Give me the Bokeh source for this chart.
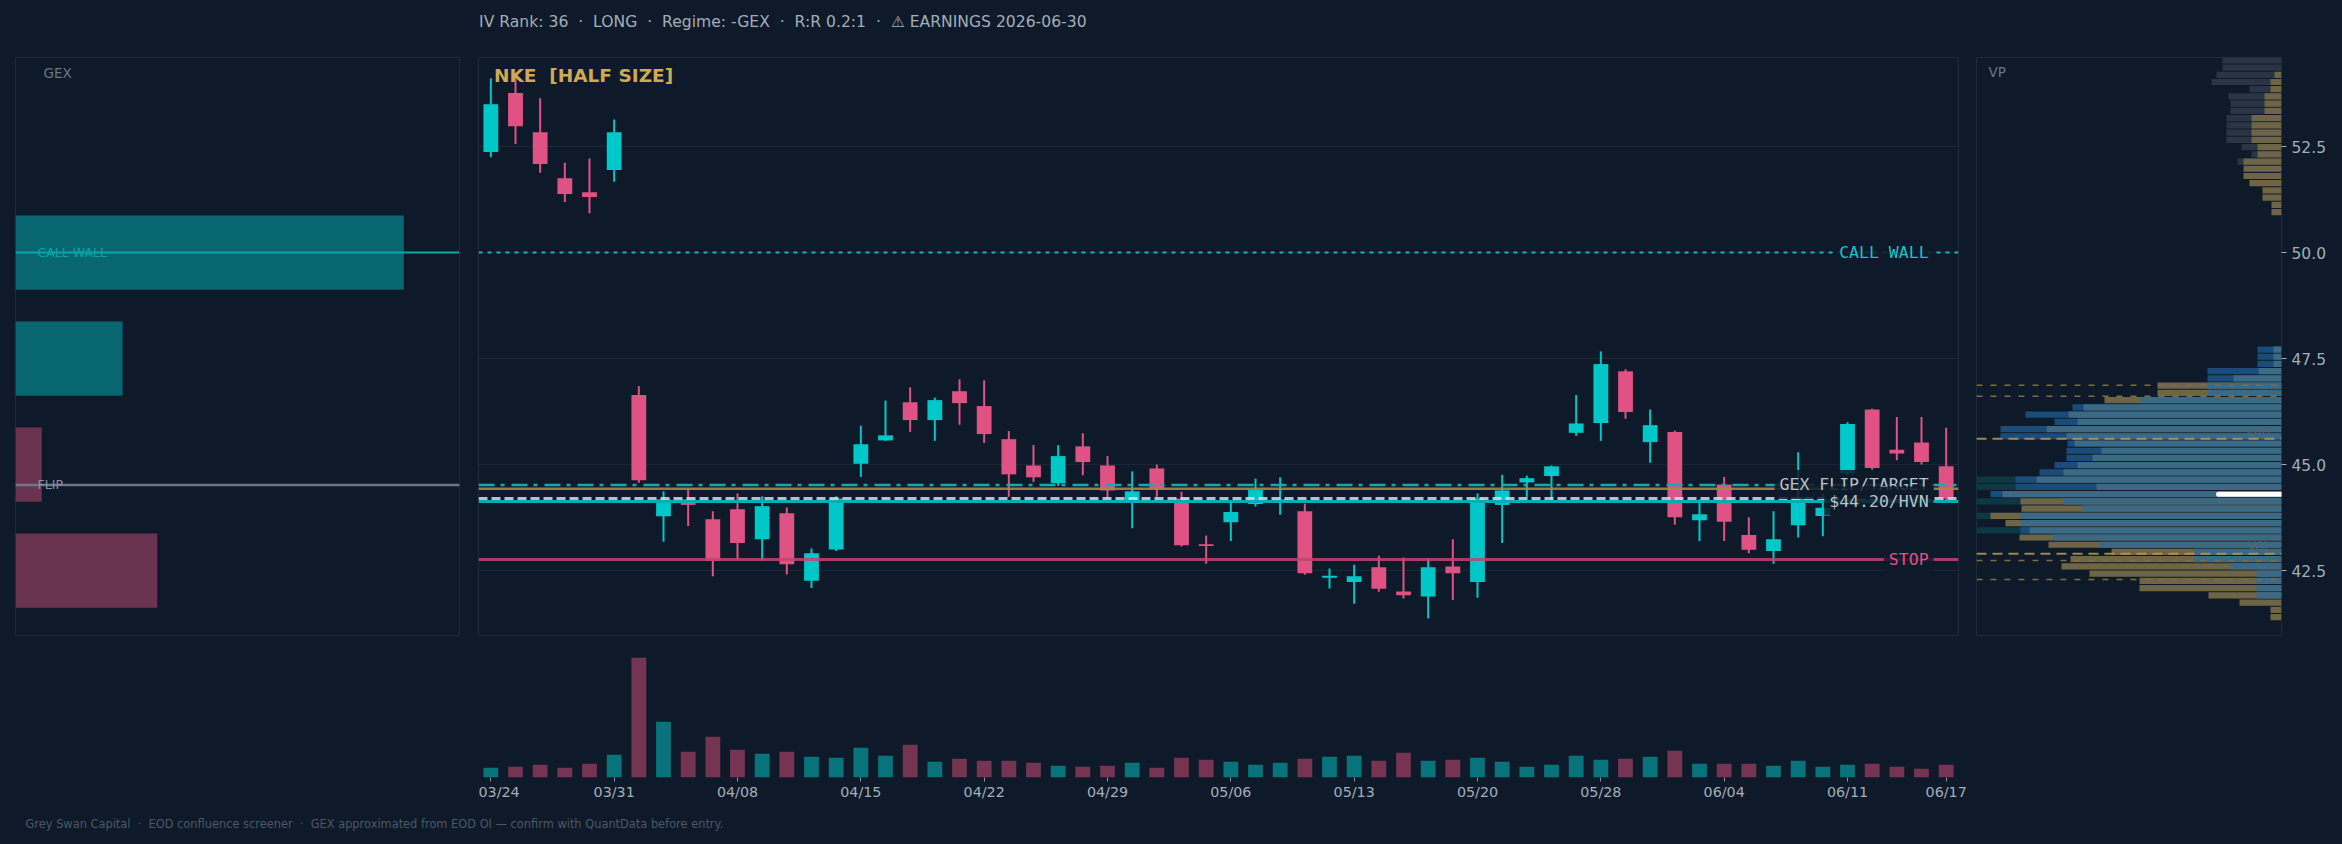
from bokeh.plotting import figure
from bokeh.models import (Range1d, Label, Span, FixedTicker, ColumnDataSource, Arrow,
                          Grid, NumeralTickFormatter)
from bokeh.layouts import row, column
from bokeh.embed import file_html
from bokeh.resources import INLINE

# ---------------- data ----------------
dates = ["03/24", "03/25", "03/26", "03/27", "03/30", "03/31", "04/01", "04/02", "04/06", "04/07",
         "04/08", "04/09", "04/10", "04/13", "04/14", "04/15", "04/16", "04/17", "04/20", "04/21",
         "04/22", "04/23", "04/24", "04/27", "04/28", "04/29", "04/30", "05/01", "05/04", "05/05",
         "05/06", "05/07", "05/08", "05/11", "05/12", "05/13", "05/14", "05/15", "05/18", "05/19",
         "05/20", "05/21", "05/22", "05/26", "05/27", "05/28", "05/29", "06/01", "06/02", "06/03",
         "06/04", "06/05", "06/08", "06/09", "06/10", "06/11", "06/12", "06/15", "06/16", "06/17"]
opens = [52.37, 53.76, 52.84, 51.75, 51.42, 51.95, 46.64, 43.78, 44.18, 43.71,
         43.95, 43.24, 43.85, 42.26, 43.00, 45.02, 45.57, 46.47, 46.05, 46.73,
         46.38, 45.60, 44.98, 44.56, 45.43, 44.98, 44.10, 44.91, 44.20, 43.12,
         43.64, 44.07, 44.10, 43.90, 42.33, 42.23, 42.58, 42.01, 41.89, 42.60,
         42.23, 44.05, 44.58, 44.73, 45.75, 45.98, 47.20, 45.53, 45.77, 43.69,
         44.53, 43.34, 42.96, 43.57, 43.79, 44.79, 46.30, 45.35, 45.52, 44.96]
highs = [54.11, 54.16, 53.64, 52.12, 52.22, 53.14, 46.85, 44.37, 44.41, 43.90,
         44.32, 44.25, 43.99, 43.02, 44.25, 45.92, 46.51, 46.82, 46.58, 47.01,
         46.99, 45.79, 45.46, 45.46, 45.74, 45.20, 44.84, 45.00, 44.36, 43.33,
         44.12, 44.67, 44.70, 44.08, 42.55, 42.64, 42.85, 42.81, 42.78, 43.24,
         44.32, 44.76, 44.74, 44.98, 46.64, 47.67, 47.25, 46.30, 45.80, 44.18,
         44.71, 43.76, 43.90, 45.29, 44.32, 46.00, 46.32, 46.12, 46.12, 45.87]
lows = [52.25, 52.56, 51.88, 51.19, 50.93, 51.67, 44.57, 43.18, 43.55, 42.37,
        42.76, 42.74, 42.41, 42.09, 42.96, 44.71, 45.56, 45.77, 45.56, 45.94,
        45.51, 44.24, 44.59, 44.50, 44.75, 44.20, 43.50, 44.24, 43.07, 42.66,
        43.20, 44.01, 43.82, 42.40, 42.08, 41.72, 42.00, 41.84, 41.37, 41.81,
        41.86, 43.15, 44.24, 44.12, 45.68, 45.56, 46.08, 45.04, 43.58, 43.20,
        43.20, 42.91, 42.66, 43.28, 43.31, 44.75, 44.88, 45.10, 45.00, 44.16]
closes = [53.50, 52.98, 52.09, 51.38, 51.31, 52.84, 44.63, 44.18, 44.05, 42.73,
          43.15, 44.02, 42.65, 42.91, 44.20, 45.48, 45.69, 46.05, 46.52, 46.45,
          45.72, 44.77, 44.70, 45.20, 45.06, 44.39, 44.37, 44.43, 43.10, 43.08,
          43.88, 44.40, 44.18, 42.44, 42.38, 42.37, 42.07, 41.92, 42.58, 42.44,
          44.20, 44.39, 44.68, 44.96, 45.97, 47.37, 46.24, 45.93, 43.76, 43.83,
          43.65, 42.99, 43.24, 44.23, 43.98, 45.96, 44.92, 45.26, 45.06, 44.20]
volumes_m = [7.8, 8.6, 10.2, 7.8, 11.0, 18.2, 95.8, 44.6, 20.6, 32.6,
             22.2, 19.0, 20.6, 16.6, 15.8, 23.8, 17.4, 26.2, 12.6, 15.0,
             13.4, 13.4, 11.8, 9.4, 8.6, 9.4, 11.8, 7.8, 15.8, 14.2,
             12.6, 10.2, 11.8, 15.0, 16.6, 17.4, 13.4, 19.8, 13.4, 14.2,
             15.8, 12.6, 8.6, 10.2, 17.4, 14.2, 15.0, 16.6, 21.4, 11.0,
             11.0, 11.0, 9.4, 13.4, 8.6, 10.2, 11.0, 8.6, 7.0, 10.2]
tick_idx = [0, 5, 10, 15, 20, 25, 30, 35, 40, 45, 50, 55, 59]

# key levels
call_wall = 50.0
gex_flip = 44.52
entry_level = 44.43
target = 44.20
hvn = 44.13
stop = 42.76
price_grid = [42.5, 45.0, 47.5, 50.0, 52.5]

# GEX by strike ($M)
gex_strikes = [50.0, 47.5, 45.0, 42.5]
gex_values = [3.70, 1.02, -0.25, -1.35]

# volume profile (78 bins from 41.32, width 0.1705), layered widths
vp_lo = 41.32
vp_bin = 0.1705
vp_teal = [0]*12 + [330, 0, 330, 0, 330, 0, 330, 330] + [0]*58
vp_gray = [0]*63 + [44, 30, 40, 55, 55, 55, 55, 51, 51, 53, 32, 70, 65, 59, 59]
vp_dark = ([0]*12 + [261, 0, 0, 0, 0, 291, 266, 266, 242, 227, 215, 215, 214, 281, 281, 227, 256, 209,
            0, 0, 0, 74, 74, 24, 24, 24] + [0]*40)
vp_gold = ([11, 11, 42, 73, 142, 142, 192, 220, 211, 170, 233, 262, 0, 276, 291, 260, 261,
            0, 0, 0, 0, 0, 0, 0, 0, 0, 0, 0, 0, 0, 177, 124, 124] + [0]*23 +
           [10, 10, 19, 19, 32, 38, 38, 38, 24, 24, 30, 30, 30, 30, 17, 17, 17, 11, 11, 7, 0, 0])
vp_light = ([0, 0, 0, 25, 25, 25, 25, 51, 87, 87, 182, 229, 252, 261, 261, 199, 218, 279, 185, 245,
             218, 204, 189, 180, 207, 215, 235, 204, 213, 198, 141, 74, 74, 48, 23, 8, 8, 8] + [0]*40)
vah = 45.61
val = 42.90
vp_guides = [46.87, 46.61, 42.74, 42.29]
poc = 44.30

# ---------------- style ----------------
BG = "#0e1a29"
BORDER = "#1f2b3b"
GRID = "#1b2737"
UP = "#00c8c8"
DOWN = "#e05283"
VOL_UP = "#08737a"
VOL_DOWN = "#743452"
AXIS_TXT = "#a3adb8"
NB = "\u00a0"

common = dict(toolbar_location=None, output_backend="svg", background_fill_color=BG,
              border_fill_color=BG, styles={"background-color": BG})

yr = Range1d(40.97, 54.60)
xr = Range1d(-0.5, 59.5)

# ---------------- GEX panel ----------------
gex = figure(width=478, height=807, x_range=Range1d(0, 4.23), y_range=yr,
             x_axis_location=None, y_axis_location=None,
             min_border_left=15, min_border_right=19, min_border_top=57, min_border_bottom=172,
             **common)
gex.outline_line_color = BORDER
gex.grid.visible = False
gex_len = [abs(v) for v in gex_values]
gex_col = ["#07666f" if v > 0 else "#6a3450" for v in gex_values]
gex.hbar(y=gex_strikes, height=1.75, left=0, right=gex_len, fill_color=gex_col, line_color=None)
gex.add_layout(Span(location=call_wall, dimension="width", line_color="#0aa5a8", line_width=2))
gex.add_layout(Span(location=gex_flip, dimension="width", line_color="#6c7686", line_width=2.5))
gex.add_layout(Label(x=0.21, y=call_wall, text="CALL WALL", text_color="#0aa3a6",
                     text_font="DejaVu Sans", text_font_size="12.5px", text_baseline="middle"))
gex.add_layout(Label(x=0.21, y=gex_flip, text="FLIP", text_color="#8a94a2",
                     text_font="DejaVu Sans", text_font_size="12.5px", text_baseline="middle"))
gex.add_layout(Label(x=0.267, y=54.23, text="GEX", text_color="#6b7685",
                     text_font="DejaVu Sans", text_font_size="13.5px", text_baseline="middle"))

# ---------------- header strip (title) ----------------
title_txt = ("IV Rank: 36 " + NB + "\u00b7" + NB + " LONG " + NB + "\u00b7" + NB + " Regime: -GEX "
             + NB + "\u00b7" + NB + " R:R 0.2:1 " + NB + "\u00b7" + NB + " \u26a0 EARNINGS 2026-06-30")
head = figure(width=1498, height=57, x_range=Range1d(0, 1498), y_range=Range1d(0, 57),
              x_axis_location=None, y_axis_location=None, min_border=0, **common)
head.outline_line_color = None
head.grid.visible = False
head.add_layout(Label(x=0.6, y=35.3, text=title_txt, text_color=AXIS_TXT,
                      text_font="DejaVu Sans", text_font_size="15.6px", text_baseline="middle"))

# ---------------- main price panel ----------------
main = figure(width=1498, height=580, x_range=xr, y_range=yr,
              x_axis_location=None, y_axis_location=None,
              min_border_left=0, min_border_right=18, min_border_top=0, min_border_bottom=2,
              **common)
main.outline_line_color = BORDER
main.grid.visible = False
main.add_layout(Grid(dimension=1, ticker=FixedTicker(ticks=price_grid),
                     grid_line_color=GRID, grid_line_width=1))

xs = list(range(len(dates)))
up = [c >= o for o, c in zip(opens, closes)]
src = ColumnDataSource(dict(
    x=xs, h=highs, l=lows,
    top=[max(o, c) for o, c in zip(opens, closes)],
    bottom=[min(o, c) for o, c in zip(opens, closes)],
    color=[UP if u else DOWN for u in up],
    vcolor=[VOL_UP if u else VOL_DOWN for u in up],
    vol=volumes_m))
main.segment(x0="x", y0="h", x1="x", y1="l", line_color="color", line_width=2, source=src)
main.vbar(x="x", width=0.6, top="top", bottom="bottom", fill_color="color", line_color=None, source=src)

main.add_layout(Span(location=call_wall, dimension="width", line_color="#13b5b8",
                     line_width=2, line_dash="4 5"))
main.add_layout(Span(location=gex_flip, dimension="width", line_color="#12aab0",
                     line_width=2.5, line_dash="16 6 4 7"))
main.add_layout(Span(location=entry_level, dimension="width", line_color="#a48a45",
                     line_width=2.5, line_alpha=0.9))
main.add_layout(Span(location=target, dimension="width", line_color="#d8dde2",
                     line_width=3, line_dash="9 4", line_alpha=0.85))
main.add_layout(Span(location=hvn, dimension="width", line_color="#00aeb3", line_width=3))
main.add_layout(Span(location=stop, dimension="width", line_color="#c0456f",
                     line_width=3, line_alpha=0.85))

lab = dict(text_font="DejaVu Sans Mono", text_font_size="16.5px", text_align="right",
           text_baseline="middle", background_fill_color=BG, background_fill_alpha=0.85,
           padding=5)
lx = 58.49
main.add_layout(Label(x=lx, y=call_wall, text="CALL WALL", text_color="#19c3c6", **lab))
main.add_layout(Label(x=lx, y=44.53, text="GEX FLIP/TARGET", text_color="#b8c1ca", **lab))
main.add_layout(Label(x=lx, y=44.14, text="$44.20/HVN", text_color="#b8c1ca", **lab))
main.add_layout(Label(x=lx, y=stop, text="STOP", text_color=DOWN, **lab))
main.add_layout(Label(x=0.128, y=54.18, text="NKE " + NB + "[HALF SIZE]", text_color="#d0aa50",
                      text_font="DejaVu Sans", text_font_size="18.5px", text_font_style="bold",
                      text_baseline="middle"))

# ---------------- volume panel ----------------
vol = figure(width=1498, height=170, x_range=xr, y_range=Range1d(0, 108.8),
             x_axis_location="below", y_axis_location=None,
             min_border_left=0, min_border_right=18, min_border_top=4, min_border_bottom=30,
             **common)
vol.outline_line_color = None
vol.grid.visible = False
vol.vbar(x="x", width=0.6, top="vol", bottom=0, fill_color="vcolor", line_color=None, source=src)
vol.xaxis.ticker = FixedTicker(ticks=tick_idx)
vol.xaxis.major_label_overrides = {i: dates[i] for i in tick_idx}
vol.xaxis.axis_line_color = None
vol.xaxis.major_tick_line_color = "#8a94a0"
vol.xaxis.major_tick_out = 4
vol.xaxis.major_tick_in = 0
vol.xaxis.minor_tick_line_color = None
vol.xaxis.major_label_text_color = AXIS_TXT
vol.xaxis.major_label_text_font = "DejaVu Sans"
vol.xaxis.major_label_text_font_size = "14.3px"
vol.xaxis.major_label_standoff = 2

# ---------------- volume profile panel ----------------
vp = figure(width=366, height=807, x_range=Range1d(305, 0), y_range=yr,
            x_axis_location=None, y_axis_location="right",
            min_border_left=0, min_border_right=61, min_border_top=57, min_border_bottom=172,
            **common)
vp.outline_line_color = BORDER
vp.grid.visible = False
centers = [vp_lo + (k + 0.5) * vp_bin for k in range(len(vp_light))]
for widths, colr in [(vp_teal, "#0c3844"), (vp_gray, "#2a3444"), (vp_dark, "#1b4b78"),
                     (vp_gold, "#6e6446"), (vp_light, "#3c6984")]:
    vp.hbar(y=centers, height=vp_bin * 0.86, left=0, right=widths, fill_color=colr, line_color=None)
for g in vp_guides:
    vp.add_layout(Span(location=g, dimension="width", line_color="#7d6d45", line_width=1.5,
                       line_dash="6 8"))
vp.add_layout(Span(location=vah, dimension="width", line_color="#b8994e", line_width=2,
                   line_dash="10 6", line_alpha=0.85))
vp.add_layout(Span(location=val, dimension="width", line_color="#b8994e", line_width=2,
                   line_dash="10 6", line_alpha=0.85))
vp.add_layout(Label(x=11, y=45.78, text="VAH", text_color="#4d6673", text_font="DejaVu Sans",
                    text_font_size="12px", text_align="right", text_baseline="middle"))
vp.add_layout(Label(x=11, y=43.08, text="VAL", text_color="#4d6673", text_font="DejaVu Sans",
                    text_font_size="12px", text_align="right", text_baseline="middle"))
vp.add_layout(Label(x=293, y=54.26, text="VP", text_color="#6b7685", text_font="DejaVu Sans",
                    text_font_size="13.5px", text_baseline="middle"))
vp.add_layout(Arrow(end=None, x_start=63, y_start=poc, x_end=-20, y_end=poc,
                    line_color="white", line_width=5, line_cap="round"))
vp.yaxis.ticker = FixedTicker(ticks=price_grid)
vp.yaxis.formatter = NumeralTickFormatter(format="0.0")
vp.yaxis.axis_line_color = None
vp.yaxis.major_tick_line_color = AXIS_TXT
vp.yaxis.major_tick_out = 5
vp.yaxis.major_tick_in = 0
vp.yaxis.minor_tick_line_color = None
vp.yaxis.major_label_text_color = AXIS_TXT
vp.yaxis.major_label_text_font = "DejaVu Sans"
vp.yaxis.major_label_text_font_size = "15.5px"
vp.yaxis.major_label_standoff = 5

# ---------------- footer ----------------
foot = figure(width=2342, height=37, x_range=Range1d(0, 2342), y_range=Range1d(0, 37),
              x_axis_location=None, y_axis_location=None, min_border=0, **common)
foot.outline_line_color = None
foot.grid.visible = False
foot_txt = ("Grey Swan Capital " + NB + "\u00b7" + NB + " EOD confluence screener " + NB + "\u00b7" + NB
            + " GEX approximated from EOD OI \u2014 confirm with QuantData before entry.")
foot.add_layout(Label(x=25, y=21, text=foot_txt,
                      text_color="#4c5767", text_font="DejaVu Sans", text_font_size="11.4px",
                      text_baseline="middle"))

inner = column(head, main, vol, styles={"background-color": BG})
top_row = row(gex, inner, vp, styles={"background-color": BG})
layout = column(top_row, foot, styles={"background-color": BG})
open("out.html", "w").write(file_html(layout, INLINE))
